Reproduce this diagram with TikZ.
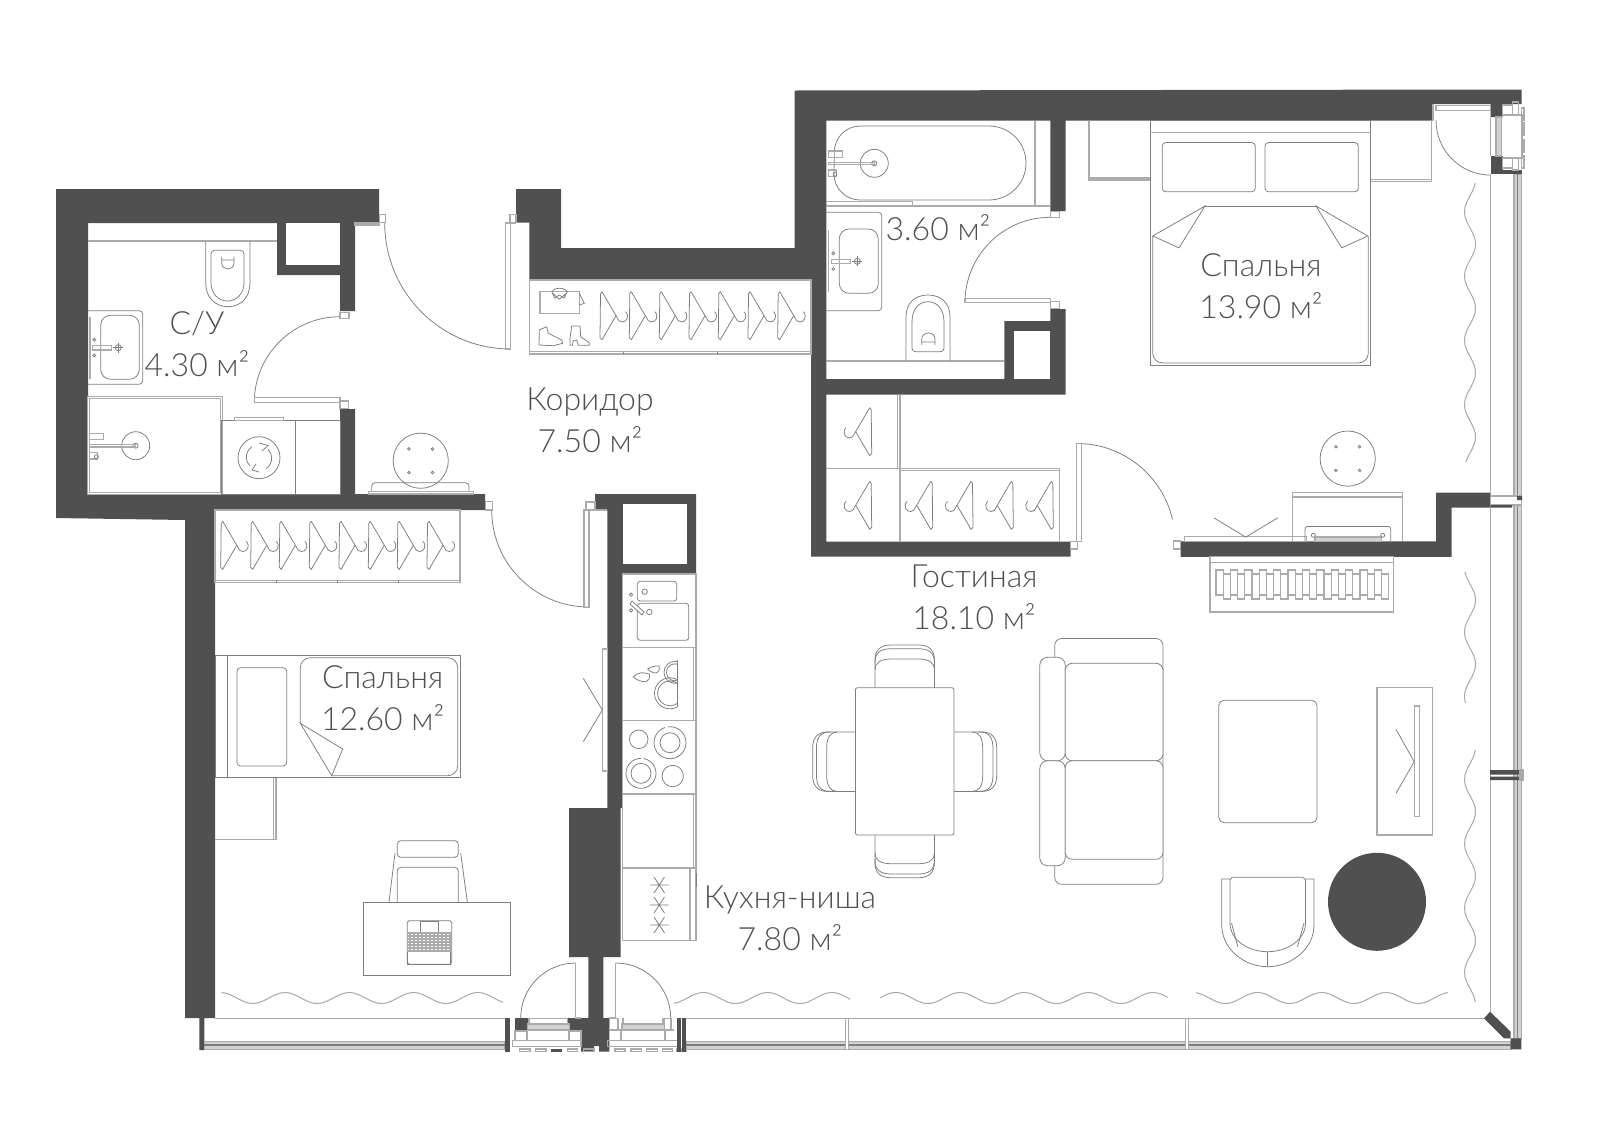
\documentclass[tikz,border=0pt]{standalone}
\usepackage{fontspec}
\usepackage{xcolor}
\newfontfamily\roomfont{Lato Light}
\definecolor{wallgray}{HTML}{505050}
\definecolor{linegray}{HTML}{7E7E7E}
\definecolor{palegray}{HTML}{ABABAB}
\definecolor{bandgray}{HTML}{D2D2D2}
\tikzset{
    wall/.style={fill = wallgray},
    fixture/.style={draw = linegray, line width = 0.22pt},
    pale/.style={draw = palegray, line width = 0.3pt},
    band/.style={draw = palegray, fill = bandgray, line width = 0.3pt},
    room/.style={font = \roomfont\fontsize{9.1}{11.95}\selectfont, text = wallgray, align = center, inner sep = 0pt},
    hanger/.pic={
        \draw [fixture] (2,-24) -- (0.5,-22) -- (0,22) -- (2,24) -- (16,0);
        \draw [fixture] (2,-24) -- (19,5) .. controls (23,8) and (28,5) .. (27.5,0) .. controls (27.4,-2) and (26.5,-3) .. (25.5,-4);
    },
    stool/.pic={
        \draw [fixture] (0,0) circle [radius = 27.6];
        \foreach \sx in {-11.8, 11.8} \foreach \sy in {-11.8, 11.8}
            \draw [fixture] (\sx,\sy) circle [radius = 1.3];
    },
    shower/.pic={
        \draw [fixture] (0,0) circle [radius = 14];
        \draw [fixture] (0,0) circle [radius = 2.5];
        \draw [pale] (-46,-1) rectangle (0,1.3);
        \draw [pale] (-46,-12.3) rectangle (-32,-6);
        \draw [pale] (-46,6.7) rectangle (-38,13.3);
        \draw [fixture] (-39.3,11) circle [radius = 2];
    },
    tap/.pic={
        \draw [fixture] (0,0) circle [radius = 3];
        \draw [fixture] (-5,0) -- (5,0) (0,-5) -- (0,5);
        \draw [pale] (-25.7,-2) rectangle (-7,2.3);
        \draw [fixture] (-24,-8) circle [radius = 1.5];
        \draw [fixture] (-24,7.7) circle [radius = 1.5];
    },
    chair/.pic={
        \draw [fixture] (-29.8,0) -- (-29.8,-27) .. controls (-29.8,-38) and (-24,-42.7) .. (-14,-42.7) -- (14,-42.7) .. controls (24,-42.7) and (29.8,-38) .. (29.8,-27) -- (29.8,0);
        \draw [fixture] (-29.8,-24) .. controls (-29.8,-36) and (-24,-39) .. (-12,-39) -- (12,-39) .. controls (24,-39) and (29.8,-36) .. (29.8,-24);
        \draw [fixture] (-29.8,-18) .. controls (-29.8,-25) and (-24,-28.7) .. (-14,-28.7) -- (14,-28.7) .. controls (24,-28.7) and (29.8,-25) .. (29.8,-18);
    }
}
\newcommand{\curtainv}[4]{\draw [pale] plot [domain = #2:#3, samples = 60, smooth] ({#1 + 5.5*cos(5.6*(\x - #4))}, \x);}
\newcommand{\curtainh}[4]{\draw [pale] plot [domain = #2:#3, samples = 60, smooth] (\x, {#1 - 5.5*cos(5.6*(\x - #4))});}
\begin{document}
\begin{tikzpicture}[x = 0.01cm, y = -0.01cm]
    \useasboundingbox (0,0) rectangle (1600,1130);

    % walls
    \fill [wall] (56,189) -- (379,189) -- (379,223) -- (355,223) -- (355,311) -- (340,311) -- (340,275) -- (277,275) -- (277,223) -- (88,223) -- (88,494) -- (340,494) -- (340,409) -- (355,409) -- (355,494) -- (485,494) -- (485,510) -- (215,510) -- (215,1018) -- (204.3,1018) -- (204.3,1050) -- (199.3,1050) -- (199.3,1018) -- (185,1018) -- (185,520) -- (56,518) -- cycle;
    \fill [white] (286,223) rectangle (340,265);
    \fill [wall] (516,189) -- (561,189) -- (561,248) -- (794.7,248) -- (794.7,90.5) -- (1521.5,89.5) -- (1521.5,104) -- (1502.7,104) -- (1502.7,117) -- (1490.7,117) -- (1490.7,104) -- (1433,104) -- (1433,120.5) -- (1065.7,120.5) -- (1065.7,211) -- (1050.3,211) -- (1050.3,120.5) -- (826.3,120.5) -- (826.3,379) -- (1004.3,379) -- (1004.3,321) -- (1050.3,321) -- (1050.3,309) -- (1065.7,309) -- (1065.7,394.7) -- (826.3,394.7) -- (826.3,541.7) -- (1070.7,541.7) -- (1070.7,556.7) -- (811,556.7) -- (811,280) -- (529.3,280) -- (529.3,222.7) -- (516,222.7) -- cycle;
    \fill [white] (1013.7,330.7) rectangle (1050.3,379);
    \fill [wall] (1180.7,541.4) -- (1436,541.4) -- (1436,492.5) -- (1490.7,492.5) -- (1490.7,507.5) -- (1451.7,507.5) -- (1451.7,556.8) -- (1180.7,556.8) -- cycle;
    \fill [wall] (595,494) -- (696,494) -- (696,574) -- (622.7,574) -- (622.7,808) -- (620.7,808) -- (620.7,957) -- (603.3,957) -- (603.3,1018) -- (609.3,1018) -- (609.3,1051.7) -- (599,1051.7) -- (599,1046) -- (594,1046) -- (594,1051.7) -- (581,1051.7) -- (581,1030) -- (567.7,1030) -- (567.7,1018) -- (588.3,1018) -- (588.3,957) -- (569,957) -- (569,808) -- (607.3,808) -- (607.3,510) -- (595,510) -- cycle;
    \fill [white] (622.7,504) rectangle (686.7,564.3);

    % left bathroom
    \draw [pale] (88,241) -- (277,241);
    \draw [fixture] (205.7,241) -- (205.7,283) .. controls (205.7,297) and (215,306.7) .. (228,306.7) .. controls (241,306.7) and (250,297) .. (250,283) -- (250,241);
    \draw [fixture, rounded corners = 1pt] (211,283) -- (211,250.3) -- (244,250.3) -- (244,283);
    \draw [fixture] (211,283) .. controls (211,293) and (218,301) .. (227.5,301) .. controls (237,301) and (244,293) .. (244,283);
    \draw [fixture] (221.7,256.7) -- (221.7,263) .. controls (222,271) and (234,271) .. (234,263) -- (234,256.7) (221.7,260) -- (234,260);
    \draw [fixture, rounded corners = 1pt] (88,310.7) -- (142.7,310.7) -- (142.7,384.3) -- (88,384.3);
    \draw [fixture, rounded corners = 2.8pt] (100.7,315.3) rectangle (139.3,379.3);
    \draw [pale] (90,317) -- (90,379);
    \pic at (118.3,347.7) {tap};
    \draw [pale, double, double distance = 0.3pt] (88.7,397.3) rectangle (221.7,493.3);
    \pic at (135.7,445.7) {shower};
    \draw [fixture] (221.7,420.7) rectangle (340,494);
    \draw [fixture] (295.7,420.7) -- (295.7,494);
    \draw [pale] (234.3,417.3) rectangle (283.3,420.7);
    \draw [fixture] (259,457.7) circle [radius = 21];
    \draw [fixture] (252,446.7) arc (237:135:12.5) (266,468.7) arc (57:-45:12.5);
    \draw [fixture] (259,443) -- (268,445.5) -- (262,451) (259,472) -- (252,470) -- (256,464);

    % doors
    \draw [fixture] (510.7,349) arc (90:180:126);
    \draw [pale] (505.7,223) rectangle (510.7,349);
    \draw [pale] (355,223) rectangle (379,225) (510,214.3) rectangle (516,222.7) (379.3,214.3) rectangle (385.7,222.7);
    \draw [pale] (505.7,223) -- (516,223);
    \draw [fixture] (340,316.7) arc (270:180:85.7);
    \draw [pale] (254.3,397.3) rectangle (340,402.3);
    \draw [pale] (340,312.7) rectangle (349,318.3) (340,401) rectangle (348.3,408.3) (485.7,501.7) rectangle (492.3,510);
    \draw [fixture] (491.7,510) arc (180:90:97);
    \draw [pale] (584,510) rectangle (589,607.7);
    \draw [pale] (589,510) -- (607.3,510) (586,502) rectangle (595,510);
    \draw [fixture] (1050.3,217.3) arc (270:180:85.3);
    \draw [pale] (965,298.3) rectangle (1050.3,302.7);
    \draw [pale] (1050.3,211.7) rectangle (1059.3,217.7) (1050.3,301.7) rectangle (1059.3,308.3);
    \draw [fixture] (1077,443.5) arc (-90:-13:98);
    \draw [pale] (1076.7,443.5) rectangle (1081.7,541.7);
    \draw [pale] (1070.7,541.7) rectangle (1077.5,549) (1173.5,541) rectangle (1180.7,549);
    \draw [pale] (1184.3,536.4) rectangle (1306.7,541.4);
    \draw [fixture] (1436,120.4) arc (180:90:54.7);
    \draw [pale] (1433,104) -- (1433,120.4) (1436,105.7) rectangle (1490.7,110.4);
    \draw [fixture] (520.7,1018) arc (180:270:55);
    \draw [pale] (575.7,963.3) -- (575.7,1018) -- (581,1018);
    \draw [fixture] (670.7,1018) arc (0:-90:55);
    \draw [pale] (609.3,1018) -- (615.3,1018) -- (615.3,963.3);

    % corridor
    \pic at (420.7,460.7) {stool};
    \draw [fixture, rounded corners = 1pt] (371.7,491.7) -- (371.7,482.7) -- (469,482.7) -- (469,491.7);
    \draw [pale] (368.3,491.7) rectangle (473.3,494);
    \draw [pale] (529.3,280) rectangle (811,354);
    \draw [pale] (529.3,351.7) -- (811,351.7);
    \draw [fixture] (623.3,351.7) -- (623.3,354) (717.3,351.7) -- (717.3,354);
    \foreach \hx in {600, 629.3, 659.3, 689, 718.3, 748, 777.7}
        \pic at (\hx,315.7) {hanger};
    \draw [pale] (540,291.7) rectangle (579.3,313.3);
    \draw [fixture] (579.3,293.3) -- (584.3,303.3) -- (579.3,305);
    \draw [fixture] (552.3,292) .. controls (553,287) and (566,287) .. (566.7,292) (552.3,293) -- (559.3,299.3) -- (566.7,293) -- (564,298) -- (559.3,295) -- (554.5,298) -- cycle;
    \draw [fixture] (539.3,330) -- (546.7,326.7) -- (548.3,333.3) -- (561.7,340) -- (562.7,343.3) -- (553.3,345.7) -- (539,345) -- cycle;
    \draw [fixture] (571.7,326) -- (580,326) -- (580.7,336.7) -- (589.3,342.7) -- (589.3,345.3) -- (578.3,345.3) -- (576.7,340) -- (573.3,340.7) -- (572.3,345.3) -- (570,345.3) -- (570,338.3) -- cycle;

    % right bathroom
    \draw [pale] (826.3,206) -- (1050.3,206) (1035,120.5) -- (1035,206);
    \draw [fixture] (860,126) -- (989,126) arc (-90:90:37) -- (860,200) arc (90:180:26) -- (834.3,152) arc (180:270:26) -- cycle;
    \pic at (874.3,163.3) {shower};
    \draw [pale] (826.3,201.7) rectangle (912.3,206);
    \draw [fixture, rounded corners = 1pt] (826.3,212.3) -- (881.7,212.3) -- (881.7,310.7) -- (826.3,310.7);
    \draw [fixture, rounded corners = 2.8pt] (839.3,229) rectangle (878.3,293.3);
    \draw [pale] (828.3,230) -- (828.3,292.3);
    \pic at (857.3,261.3) {tap};
    \draw [pale] (826.3,361) -- (1004.3,361);
    \draw [fixture] (906,361) -- (906,317) .. controls (906,303) and (915,295) .. (928,295) .. controls (941,295) and (950,303) .. (950,317) -- (950,361);
    \draw [fixture, rounded corners = 1pt] (912,322) -- (912,351.7) -- (944,351.7) -- (944,322);
    \draw [fixture] (912,322) .. controls (912,309) and (919,301.7) .. (928,301.7) .. controls (937,301.7) and (944,309) .. (944,322);
    \draw [fixture] (921.7,345) -- (921.7,339) .. controls (922,331) and (935,331) .. (935,339) -- (935,345) (921.7,342) -- (935,342);

    % right bedroom
    \draw [pale] (1089,120.5) -- (1089,180) -- (1150.3,180);
    \draw [pale] (1089,178) -- (1150.3,178);
    \draw [pale] (1370.7,181.8) -- (1431.7,181.8) -- (1431.7,120.4) (1370.7,179.5) -- (1431.7,179.5);
    \draw [fixture] (1150.3,120.4) rectangle (1370.7,365);
    \draw [pale] (1150.3,132.9) -- (1370.7,132.9);
    \draw [fixture, rounded corners = 1pt] (1162.3,142.5) rectangle (1255.3,191.8);
    \draw [fixture, rounded corners = 1pt] (1265,142.5) rectangle (1358.3,191.8);
    \draw [fixture] (1205,206) -- (1316,206);
    \draw [fixture] (1205,206) -- (1152.7,236) -- (1179,247.9) -- cycle;
    \draw [fixture] (1316,206) -- (1367.7,236) -- (1341.7,247.9) -- cycle;
    \draw [fixture, rounded corners = 2.8pt] (1152.7,236) -- (1152.7,362.9) -- (1368.3,362.9) -- (1368.3,236);
    \pic at (1347.7,458.6) {stool};
    \draw [pale] (1292.7,541.4) -- (1292.7,492.5) -- (1402.7,492.5) -- (1402.7,541.4) (1292.7,497) -- (1402.7,497);
    \draw [fixture, rounded corners = 0.7pt] (1305,541.4) -- (1305,526.4) -- (1390.7,526.4) -- (1390.7,541.4);
    \draw [band] (1315,537) rectangle (1381.7,541.4);
    \draw [fixture] (1313.3,535.3) circle [radius = 2] (1382.7,535.3) circle [radius = 2];
    \draw [fixture] (1214,517.9) -- (1245.7,537.1) -- (1277.7,517.9);

    % closet
    \draw [pale] (897.7,394.7) -- (897.7,468.3) (900,394.7) -- (900,541.7);
    \draw [pale] (826.3,468.3) -- (1059.3,468.3) -- (1059.3,541.7) (900,470.7) -- (1059.3,470.7);
    \pic [xscale = -1] at (871.7,431.7) {hanger};
    \foreach \hx in {871.7, 932.7, 973, 1013.3, 1053.3}
        \pic [xscale = -1] at (\hx,505.3) {hanger};

    % shelf under the wall
    \draw [pale] (1210,556.8) rectangle (1393.3,612);
    \draw [pale] (1210,562.9) -- (1393.3,562.9);
    \foreach \bk in {0,2,...,22} {
        \draw [pale] ({1216 + 7.2*\bk},570) rectangle ++(7.2,25);
        \draw [pale] ({1216 + 7.2*(\bk+1)},574) rectangle ++(7.2,25);
    }

    % left bedroom
    \draw [pale] (215,510) rectangle (460,582.7);
    \draw [pale] (215,580.3) -- (460,580.3);
    \draw [fixture] (276,580.3) -- (276,582.7) (337.3,580.3) -- (337.3,582.7) (398.3,580.3) -- (398.3,582.7);
    \foreach \hx in {220.7, 250.7, 279.3, 309.3, 339, 368.3, 397.3, 427}
        \pic at (\hx,545.3) {hanger};
    \draw [fixture] (215,655.3) rectangle (460,777.7);
    \draw [fixture] (227.3,655.3) -- (227.3,777.7);
    \draw [fixture, rounded corners = 1pt] (237,667.7) rectangle (286.7,766);
    \draw [fixture, rounded corners = 2.8pt] (300.3,723.3) -- (300.3,657.7) -- (457.7,657.7) -- (457.7,775.7) -- (331.7,775.7);
    \draw [fixture] (300.3,723.3) -- (342.7,749) -- (331.7,775.7) -- cycle;
    \draw [pale] (215,839.3) -- (276,839.3) -- (276,777.7) (273.5,777.7) -- (273.5,839.3);
    \draw [fixture] (363,902) rectangle (510,975.7);
    \draw [fixture, rounded corners = 1pt] (397.3,840.7) rectangle (458.3,857.3);
    \draw [fixture, rounded corners = 1pt] (397.3,902) -- (397.3,867.3) -- (458.3,867.3) -- (458.3,902);
    \draw [fixture] (389,902) -- (395,853.3) (467.3,902) -- (460.7,853.3);
    \draw [fixture, rounded corners = 0.5pt] (407.3,920.7) rectangle (451.7,964.3);
    \draw [fixture] (420.7,921.7) rectangle (438.3,932.7);
    \draw [fixture] (407.3,951.5) rectangle (450.7,964.3);
    \foreach \ky in {933,936,...,951}
        \draw [pale] (407.3,\ky) -- (451.7,\ky);
    \foreach \kx in {410,414,...,450}
        \draw [pale] (\kx,933) -- (\kx,950.7);

    % wardrobe mirror and kitchen
    \draw [pale] (602.3,649) rectangle (607.3,771);
    \draw [fixture] (583.3,678.3) -- (602.3,710) -- (583.3,741.7);
    \draw [pale] (622.7,574) rectangle (696,940.7);
    \foreach \ky in {647.3, 720.7, 794}
        \draw [pale] (622.7,\ky) -- (696,\ky);
    \draw [pale] (622.7,867.3) -- (696,867.3) (622.7,868.3) -- (696,868.3);
    \draw [pale] (693.3,647.3) -- (693.3,720.7) (693.3,794) -- (693.3,867.3) (690,867.3) -- (690,940.7);
    \draw [fixture] (696,873.3) -- (696,886.7);
    \draw [fixture, rounded corners = 0.8pt] (637.3,581.3) rectangle (676.7,601);
    \draw [fixture, rounded corners = 0.8pt] (637.3,603.3) rectangle (688.7,640.3);
    \draw [fixture] (644.7,591.7) circle [radius = 2.7] (649.3,612) circle [radius = 2.7];
    \draw [fixture, fill = white] (630,604) -- (632,601) -- (644,612) -- (642,615) -- cycle;
    \draw [fixture] (631,594.7) circle [radius = 1.7] (631,610.3) circle [radius = 1.7];
    \draw [fixture] (633.3,676.7) .. controls (638,672) and (644,672) .. (649.3,674) .. controls (650,678) and (649,681) .. (646,681.7) .. controls (642,682) and (636,680) .. cycle;
    \draw [fixture] (647.7,669) .. controls (651,667) and (655,665.5) .. (659,666) .. controls (660,669) and (659,672) .. (656,673) .. controls (653,673) and (649,671) .. cycle;
    \begin{scope}
        \clip (622.7,647.3) rectangle (677.7,720.7);
        \draw [fixture] (675,672.3) circle [radius = 11] (675,672.3) circle [radius = 8.5];
        \draw [fixture] (670,693.3) circle [radius = 15.5] (670,693.3) circle [radius = 12.5];
    \end{scope}
    \draw [fixture] (677.7,660) -- (677.7,707);
    \draw [fixture] (638.7,739.3) circle [radius = 9.3];
    \draw [fixture] (670,742.7) circle [radius = 10];
    \draw [fixture, dash pattern = on 20pt off 0.8pt] (670,742.7) circle [radius = 16];
    \draw [fixture] (641,773.3) circle [radius = 10];
    \draw [fixture, dash pattern = on 20pt off 0.8pt] (641,773.3) circle [radius = 15];
    \draw [fixture] (672.7,776) circle [radius = 10.7];
    \foreach \ay in {885, 905, 925}
        \draw [fixture] (650,\ay) -- (668.7,\ay) (654,{\ay-8}) -- (664.5,{\ay+8}) (664.5,{\ay-8}) -- (654,{\ay+8});

    % living room
    \pic at (904.7,687.7) {chair};
    \pic [yscale = -1] at (904.7,835) {chair};
    \pic [rotate = 90] at (855.4,761.7) {chair};
    \pic [rotate = -90] at (954,761.7) {chair};
    \draw [fixture, rounded corners = 0.6pt] (855.4,687.7) rectangle (954,835);
    \draw [fixture, rounded corners = 2pt] (1054.7,657) -- (1054.7,638.5) -- (1163,638.5) -- (1163,884.3) -- (1054.7,884.3) -- (1054.7,865);
    \draw [fixture, fill = white, rounded corners = 2.2pt] (1039.8,657.3) rectangle (1065.2,760.7);
    \draw [fixture, fill = white, rounded corners = 2.2pt] (1039.8,760.7) rectangle (1065.2,865.7);
    \draw [fixture, fill = white, rounded corners = 2pt] (1065.2,760.7) -- (1065.2,663.3) -- (1163,663.3) -- (1163,760.7) -- cycle;
    \draw [fixture, fill = white, rounded corners = 2pt] (1065.2,760.7) -- (1065.2,859.3) -- (1163,859.3) -- (1163,760.7) -- cycle;
    \draw [fixture, rounded corners = 1.5pt] (1218.8,700.3) rectangle (1317,822.7);
    \draw [pale] (1377,687.7) rectangle (1432.8,835);
    \draw [pale] (1414.6,706) rectangle (1419.7,816.7);
    \draw [fixture] (1396,729.3) -- (1414.2,761.7) -- (1396,793.3);
    \fill [wall] (1377,901.8) circle [radius = 49];
    \draw [fixture] (1230,880) -- (1230,923) .. controls (1230,940) and (1248,951.7) .. (1267.5,951.7) .. controls (1287,951.7) and (1305.5,940) .. (1305.5,923) -- (1305.5,880) -- (1303,877.3) -- (1232,877.3) -- cycle;
    \draw [fixture] (1230,879) -- (1221.7,879) -- (1221.7,925) .. controls (1222,950) and (1245,966.7) .. (1267.5,966.7) .. controls (1290,966.7) and (1314,950) .. (1314,925) -- (1314,879) -- (1305.5,879);
    \draw [fixture] (1231.5,923) -- (1237.8,946.7) (1304,923) -- (1297.5,946.7) (1267.5,951.7) -- (1267.5,966.7);

    % curtains
    \curtainv{1470}{183}{462}{244}
    \curtainv{1470}{572}{703}{600}
    \curtainv{1470}{750}{1002}{811.7}
    \curtainh{998}{221.7}{503}{285}
    \curtainh{998}{674}{850}{703.3}
    \curtainh{998}{880}{1168}{960}
    \curtainh{998}{1196}{1448}{1321.7}

    % windows
    \draw [pale] (215,1018.3) -- (505,1018.3) (686,1018.3) -- (1484,1018.3);
    \draw [pale] (1490.2,174) -- (1490.2,492.5) (1490.2,507.5) -- (1490.2,1011.7);
    \draw [band] (204.3,1041.7) rectangle (505,1049.3);
    \draw [linegray, line width = 0.4pt] (204.3,1045) -- (505,1045);
    \draw [band] (686,1041.7) rectangle (1511,1049.3);
    \draw [linegray, line width = 0.4pt] (686,1045) -- (1511,1045);
    \draw [band] (1514,174) rectangle (1521.3,1038.3);
    \draw [linegray, line width = 0.4pt] (1517.5,174) -- (1517.5,1038.3);
    \foreach \mx in {684, 847, 1187}
        \draw [pale, fill = white] ({\mx - 1.2},1018.3) rectangle ({\mx + 1.2},1049.3);
    \fill [wall] (1490.2,770) rectangle (1520,774.5) (1490.2,776.5) rectangle (1520,780);
    \draw [pale] (1520,770) rectangle (1523,780);
    \draw [pale, fill = white] (1490.7,496) rectangle (1521.3,505);
    \fill [wall] (1490.7,505) rectangle (1512,507.5) (1517,496) rectangle (1522,500);
    \fill [wall] (1490,1011.7) -- (1510.7,1031.7) -- (1510.7,1038.3) -- (1521.3,1038.3) -- (1521.3,1049.3) -- (1510.7,1049.3) -- (1510.7,1038.3) -- (1504,1038.3) -- (1484,1018.3) -- cycle;

    % balcony doors
    \fill [wall] (505,1018.3) rectangle (510,1051.7);
    \fill [wall] (515,1018.3) rectangle (529,1030);
    \draw [pale] (529,1018.3) rectangle (567.7,1024);
    \draw [band] (527.3,1024) rectangle (569.3,1030);
    \draw [pale] (515,1031) rectangle (527,1040.7) (569,1031) rectangle (581,1040.7);
    \draw [pale] (512.3,1040.7) rectangle (581,1046.7);
    \draw [pale] (527,1030) -- (527,1040.7) (569,1030) -- (569,1040.7);
    \foreach \tx/\tw in {519.3/10.7, 535.3/10.7, 567.3/10.4, 583.3/10.7, 615/10, 631/10.7, 646.7/10.6, 662.7/10, 676.7/4.6, 682/4.7}
        \draw [pale] (\tx,1049) rectangle ++(\tw,2.7);
    \fill [wall] (551.3,1049) rectangle (561.7,1051.7);
    \draw [pale] (609.3,1018.3) rectangle (618,1030);
    \draw [pale] (663,1018.3) rectangle (671,1030);
    \draw [pale] (623,1018.3) -- (623,1024) (664,1018.3) -- (664,1024);
    \draw [band] (622,1024) rectangle (664.5,1030);
    \draw [pale] (609.3,1030) -- (622,1030) (664.5,1030) -- (674,1030);
    \draw [pale] (621,1030) -- (621,1040.7) (665,1030) -- (665,1040.7);
    \draw [pale] (607.3,1040.7) rectangle (679,1046.7);
    \fill [wall] (676.7,1018.3) rectangle (681,1051.7);
    \fill [wall] (682,1018.3) rectangle (686,1051.7);

    % top right window
    \fill [wall] (1490.7,156) rectangle (1502.7,170);
    \fill [wall] (1490.7,170) rectangle (1521.5,174);
    \draw [pale] (1490.7,117) -- (1490.7,156);
    \draw [band] (1496,117) rectangle (1501.7,156);
    \draw [pale] (1502.7,105) rectangle (1512.7,115);
    \draw [pale] (1512.7,102) rectangle (1518.3,115);
    \draw [pale] (1502.7,158) rectangle (1512.7,168);
    \draw [pale] (1512.7,158) rectangle (1518.3,170);
    \draw [pale] (1518.3,115) -- (1522,115) -- (1522,158) -- (1518.3,158);
    \foreach \wy in {108, 123, 140, 156}
        \draw [pale] (1521.7,\wy) rectangle (1524,{\wy + 12});

    % room labels
    \node [room] (toiletlabel) at (197,344) {С/У\\4.30 м²};
    \node [room] (bathlabel) at (938,228) {3.60 м²};
    \node [room] (hallabel) at (590,420.5) {Коридор\\7.50 м²};
    \node [room] (bedrightlabel) at (1261,285.7) {Спальня\\13.90 м²};
    \node [room] (bedleftlabel) at (382.7,698) {Спальня\\12.60 м²};
    \node [room] (livinglabel) at (974,597) {Гостиная\\18.10 м²};
    \node [room] (kitchenlabel) at (790,918) {Кухня-ниша\\7.80 м²};
\end{tikzpicture}
\end{document}
